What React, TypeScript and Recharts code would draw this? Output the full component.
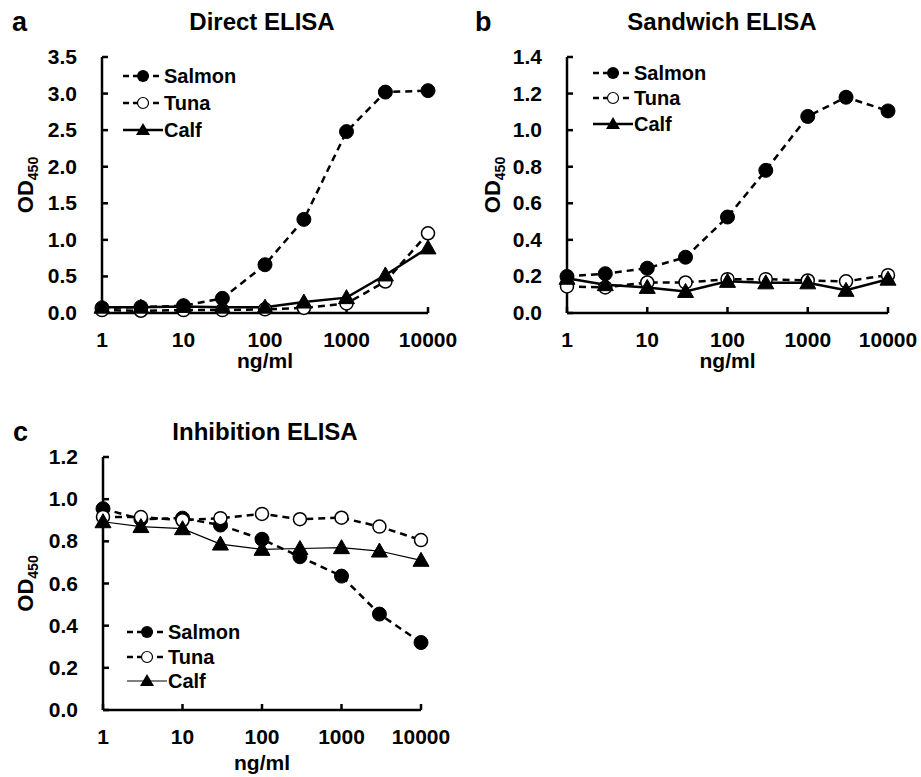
import React from 'react';
import { LineChart, Line, XAxis, YAxis, Legend } from 'recharts';

const FONT = '"Liberation Sans", Arial, Helvetica, sans-serif';

// ng/ml concentrations (log axis)
const concentrations = [1, 3, 10, 30, 100, 300, 1000, 3000, 10000];
const xTicks = [1, 10, 100, 1000, 10000];

// a: Direct ELISA
const directSalmon = [0.07, 0.08, 0.1, 0.2, 0.66, 1.28, 2.48, 3.02, 3.04];
const directTuna = [0.04, 0.03, 0.04, 0.04, 0.05, 0.07, 0.13, 0.43, 1.09];
const directCalf = [0.08, 0.08, 0.09, 0.08, 0.08, 0.15, 0.21, 0.52, 0.89];
const directTicks = [0, 0.5, 1, 1.5, 2, 2.5, 3, 3.5];

// b: Sandwich ELISA
const sandwichSalmon = [0.2, 0.215, 0.245, 0.305, 0.525, 0.78, 1.075, 1.18, 1.105];
const sandwichTuna = [0.145, 0.14, 0.167, 0.167, 0.185, 0.185, 0.178, 0.173, 0.207];
const sandwichCalf = [0.19, 0.155, 0.14, 0.118, 0.173, 0.165, 0.165, 0.124, 0.185];
const sandwichTicks = [0, 0.2, 0.4, 0.6, 0.8, 1, 1.2, 1.4];

// c: Inhibition ELISA
const inhibSalmon = [0.955, 0.905, 0.91, 0.877, 0.81, 0.727, 0.635, 0.455, 0.32];
const inhibTuna = [0.916, 0.915, 0.9, 0.91, 0.93, 0.905, 0.912, 0.87, 0.806];
const inhibCalf = [0.893, 0.87, 0.86, 0.787, 0.762, 0.766, 0.77, 0.754, 0.71];
const inhibTicks = [0, 0.2, 0.4, 0.6, 0.8, 1, 1.2];

const seriesNames = ['Salmon', 'Tuna', 'Calf'];

const makeRows = (salmon: number[], tuna: number[], calf: number[]) =>
  concentrations.map((x, i) => ({ x, salmon: salmon[i], tuna: tuna[i], calf: calf[i] }));

const FilledDot = (props: any) => {
  const { cx, cy, index } = props;
  if (cx == null || cy == null) return null;
  return <circle key={`f-${index}`} cx={cx} cy={cy} r={7} fill="#000" stroke="#000" strokeWidth={1} />;
};

const OpenDot = (props: any) => {
  const { cx, cy, index } = props;
  if (cx == null || cy == null) return null;
  return <circle key={`o-${index}`} cx={cx} cy={cy} r={6.5} fill="#fff" stroke="#000" strokeWidth={1.5} />;
};

const TriangleDot = (props: any) => {
  const { cx, cy, index } = props;
  if (cx == null || cy == null) return null;
  return (
    <polygon
      key={`t-${index}`}
      points={`${cx},${cy - 8} ${cx - 8},${cy + 6} ${cx + 8},${cy + 6}`}
      fill="#000"
      stroke="#000"
      strokeWidth={1}
    />
  );
};

const XTick = (props: any) => {
  const { x, y, payload } = props;
  return (
    <text x={x} y={y} dy={16} textAnchor="middle" fontFamily={FONT} fontWeight="bold" fontSize={21} fill="#000">
      {payload.value}
    </text>
  );
};

const YTick = (props: any) => {
  const { x, y, payload } = props;
  return (
    <text x={x} y={y} dy={7} textAnchor="end" fontFamily={FONT} fontWeight="bold" fontSize={21} fill="#000">
      {Number(payload.value).toFixed(1)}
    </text>
  );
};

const LegendBox = ({ rowGap, calfWidth }: { rowGap: number; calfWidth: number }) => (
  <div style={{ fontFamily: FONT, fontWeight: 'bold', fontSize: 20, color: '#000' }}>
    {seriesNames.map((name, i) => (
      <div key={name} style={{ display: 'flex', alignItems: 'center', height: rowGap }}>
        <svg width={40} height={20} style={{ display: 'block' }}>
          <line
            x1={0}
            y1={10}
            x2={40}
            y2={10}
            stroke="#000"
            strokeWidth={i === 2 ? calfWidth : 2.5}
            strokeDasharray={i === 2 ? undefined : '6 4'}
          />
          {i === 0 && <circle cx={20} cy={10} r={6} fill="#000" />}
          {i === 1 && <circle cx={20} cy={10} r={5.5} fill="#fff" stroke="#000" strokeWidth={1.2} />}
          {i === 2 && <polygon points="20,3 13,15 27,15" fill="#000" />}
        </svg>
        <span style={{ marginLeft: 1, lineHeight: 1 }}>{name}</span>
      </div>
    ))}
  </div>
);

const OdLabel = (props: any) => {
  const { viewBox, baseX } = props;
  const cy = viewBox.y + viewBox.height / 2;
  return (
    <text
      x={baseX}
      y={cy}
      transform={`rotate(-90, ${baseX}, ${cy})`}
      textAnchor="middle"
      fontFamily={FONT}
      fontWeight="bold"
      fontSize={22}
      fill="#000"
    >
      OD
      <tspan fontSize={14} dy={5}>450</tspan>
    </text>
  );
};

const UnitLabel = (props: any) => {
  const { viewBox, dy } = props;
  return (
    <text
      x={viewBox.x + viewBox.width / 2}
      y={viewBox.y + dy}
      textAnchor="middle"
      fontFamily={FONT}
      fontWeight="bold"
      fontSize={21}
      fill="#000"
    >
      ng/ml
    </text>
  );
};

const axisStroke = { stroke: '#000', strokeWidth: 2.5 };

type PanelProps = {
  salmon: number[];
  tuna: number[];
  calf: number[];
  yTicks: number[];
  width: number;
  height: number;
  margin: { top: number; right: number; bottom: number; left: number };
  legendLeft: number;
  legendTop: number;
  rowGap: number;
  calfWidth: number;
  odX: number;
  unitDy: number;
};

const Panel = (p: PanelProps) => {
  const rows = makeRows(p.salmon, p.tuna, p.calf);
  return (
    <LineChart width={p.width} height={p.height} data={rows} margin={p.margin}>
      <XAxis
        dataKey="x"
        type="number"
        scale="log"
        domain={[1, 10000]}
        ticks={xTicks}
        interval={0}
        height={60}
        axisLine={axisStroke}
        tickLine={axisStroke}
        tickSize={-6}
        tickMargin={24}
        tick={<XTick />}
        label={<UnitLabel dy={p.unitDy} />}
      />
      <YAxis
        type="number"
        domain={[0, p.yTicks[p.yTicks.length - 1]]}
        ticks={p.yTicks}
        interval={0}
        width={80}
        axisLine={axisStroke}
        tickLine={axisStroke}
        tickSize={-6}
        tickMargin={31}
        tick={<YTick />}
        label={<OdLabel baseX={p.odX} />}
      />
      <Legend
        layout="vertical"
        align="center"
        verticalAlign="middle"
        wrapperStyle={{ left: p.legendLeft, top: p.legendTop, width: 'auto' }}
        content={() => <LegendBox rowGap={p.rowGap} calfWidth={p.calfWidth} />}
      />
      <Line
        dataKey="salmon"
        name="Salmon"
        type="linear"
        stroke="#000"
        strokeWidth={2.5}
        strokeDasharray="7 5"
        dot={<FilledDot />}
        activeDot={false}
        isAnimationActive={false}
      />
      <Line
        dataKey="tuna"
        name="Tuna"
        type="linear"
        stroke="#000"
        strokeWidth={2.5}
        strokeDasharray="7 5"
        dot={<OpenDot />}
        activeDot={false}
        isAnimationActive={false}
      />
      <Line
        dataKey="calf"
        name="Calf"
        type="linear"
        stroke="#000"
        strokeWidth={p.calfWidth}
        dot={<TriangleDot />}
        activeDot={false}
        isAnimationActive={false}
      />
    </LineChart>
  );
};

const textBase: React.CSSProperties = {
  position: 'absolute',
  fontFamily: FONT,
  fontWeight: 'bold',
  color: '#000',
  whiteSpace: 'nowrap',
  lineHeight: 1,
};

const App = () => (
  <div style={{ position: 'absolute', left: 0, top: 0, width: 921, height: 777, background: '#fff' }}>
    <div style={{ ...textBase, left: 12, top: 9, fontSize: 27 }}>a</div>
    <div style={{ ...textBase, left: 262, top: 10, fontSize: 24, transform: 'translateX(-50%)' }}>Direct ELISA</div>
    <div style={{ ...textBase, left: 475, top: 9, fontSize: 27 }}>b</div>
    <div style={{ ...textBase, left: 722, top: 10, fontSize: 24, transform: 'translateX(-50%)' }}>Sandwich ELISA</div>
    <div style={{ ...textBase, left: 13, top: 419, fontSize: 27 }}>c</div>
    <div style={{ ...textBase, left: 265, top: 420, fontSize: 24, transform: 'translateX(-50%)' }}>Inhibition ELISA</div>

    <div style={{ position: 'absolute', left: 0, top: 0 }}>
      <Panel
        salmon={directSalmon}
        tuna={directTuna}
        calf={directCalf}
        yTicks={directTicks}
        width={460}
        height={380}
        margin={{ top: 57, right: 32, bottom: 7, left: 22 }}
        legendLeft={123}
        legendTop={62}
        rowGap={27}
        calfWidth={2.5}
        odX={33}
        unitDy={55}
      />
    </div>
    <div style={{ position: 'absolute', left: 460, top: 0 }}>
      <Panel
        salmon={sandwichSalmon}
        tuna={sandwichTuna}
        calf={sandwichCalf}
        yTicks={sandwichTicks}
        width={461}
        height={380}
        margin={{ top: 57, right: 33, bottom: 7, left: 27 }}
        legendLeft={133}
        legendTop={60}
        rowGap={25.5}
        calfWidth={2.5}
        odX={40}
        unitDy={55}
      />
    </div>
    <div style={{ position: 'absolute', left: 0, top: 390 }}>
      <Panel
        salmon={inhibSalmon}
        tuna={inhibTuna}
        calf={inhibCalf}
        yTicks={inhibTicks}
        width={460}
        height={387}
        margin={{ top: 67, right: 39, bottom: 7, left: 23 }}
        legendLeft={127}
        legendTop={230}
        rowGap={24.5}
        calfWidth={1.2}
        odX={33}
        unitDy={60}
      />
    </div>
  </div>
);

export default App;
